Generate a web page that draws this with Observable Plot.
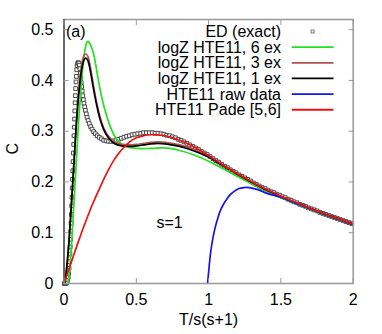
<!DOCTYPE html>
<html><head><meta charset="utf-8">
<script src="https://cdn.jsdelivr.net/npm/d3@7"></script>
<script src="https://cdn.jsdelivr.net/npm/@observablehq/plot@0.6"></script>
<style>
html,body{margin:0;padding:0;background:#fff;}
#chart{width:382px;height:334px;}
</style></head><body><div id="chart"></div>
<script>
// ED (exact) squares
const edT = [0.002,0.006,0.010,0.014,0.018,0.022,0.026,0.029,0.032,0.035,0.038,0.041,0.043,0.045,0.047,0.049,0.051,0.053,0.055,0.057,0.059,0.061,0.063,0.065,0.067,0.069,0.071,0.073,0.075,0.077,0.079,0.081,0.083,0.085,0.088,0.091,0.095,0.099,0.103,0.107,0.110,0.113,0.116,0.119,0.122,0.126,0.130,0.134,0.138,0.143,0.148,0.154,0.160,0.167,0.175,0.184,0.194,0.205,0.217,0.230,0.244,0.259,0.275,0.291,0.308,0.325,0.342,0.360,0.378,0.396,0.414,0.433,0.452,0.471,0.490,0.510,0.530,0.550,0.570,0.590,0.610,0.630,0.650,0.670,0.690,0.710,0.730,0.750,0.770,0.790,0.810,0.830,0.850,0.870,0.890,0.910,0.930,0.950,0.970,0.990,1.01,1.03,1.05,1.07,1.09,1.11,1.13,1.15,1.17,1.19,1.21,1.23,1.25,1.27,1.29,1.31,1.33,1.35,1.37,1.39,1.41,1.43,1.45,1.47,1.49,1.51,1.53,1.55,1.57,1.59,1.61,1.63,1.65,1.67,1.69,1.71,1.73,1.75,1.77,1.79,1.81,1.83,1.85,1.87,1.89,1.91,1.93,1.95,1.97,1.99];
const edC = [0.000,0.000,0.000,0.001,0.002,0.004,0.008,0.013,0.020,0.030,0.043,0.058,0.072,0.087,0.103,0.119,0.136,0.153,0.170,0.188,0.205,0.222,0.240,0.257,0.274,0.291,0.308,0.324,0.340,0.356,0.370,0.384,0.397,0.408,0.421,0.429,0.434,0.435,0.434,0.430,0.423,0.414,0.405,0.396,0.388,0.379,0.370,0.362,0.355,0.348,0.341,0.334,0.327,0.321,0.315,0.309,0.304,0.299,0.295,0.291,0.288,0.285,0.282,0.281,0.280,0.280,0.281,0.282,0.284,0.286,0.288,0.290,0.291,0.293,0.294,0.295,0.296,0.297,0.297,0.297,0.297,0.296,0.296,0.295,0.294,0.292,0.291,0.289,0.287,0.284,0.282,0.279,0.276,0.273,0.270,0.267,0.264,0.260,0.257,0.254,0.250,0.246,0.242,0.239,0.235,0.231,0.228,0.224,0.221,0.218,0.214,0.211,0.208,0.205,0.202,0.198,0.195,0.192,0.189,0.187,0.184,0.181,0.179,0.176,0.174,0.171,0.169,0.166,0.164,0.161,0.159,0.156,0.154,0.152,0.149,0.147,0.145,0.143,0.140,0.138,0.136,0.134,0.132,0.130,0.128,0.126,0.124,0.122,0.120,0.118];

// logZ HTE11, 6 ex (green)
const g6T = [0.028,0.04,0.055,0.07,0.085,0.1,0.115,0.13,0.145,0.158,0.168,0.18,0.192,0.205,0.22,0.235,0.25,0.265,0.28,0.3,0.32,0.345,0.37,0.4,0.45,0.5,0.6,0.7,0.8,0.9,1.0,1.1,1.2,1.3,1.4,1.5,1.6,1.7,1.8,1.9,2.0];
const g6C = [0,0.03,0.09,0.165,0.24,0.315,0.375,0.425,0.46,0.475,0.477,0.472,0.464,0.452,0.43,0.405,0.382,0.362,0.345,0.326,0.309,0.293,0.282,0.274,0.268,0.266,0.266,0.267,0.262,0.253,0.241,0.226,0.211,0.196,0.182,0.169,0.157,0.146,0.135,0.125,0.116];

// logZ HTE11, 3 ex (brown)
const g3T = [0.005,0.02,0.035,0.05,0.065,0.08,0.095,0.11,0.125,0.14,0.153,0.166,0.18,0.195,0.21,0.23,0.25,0.275,0.3,0.33,0.36,0.4,0.45,0.5,0.55,0.6,0.65,0.7,0.8,0.9,1.0,1.1,1.2,1.3,1.4,1.5,1.6,1.7,1.8,1.9,2.0];
const g3C = [0,0.035,0.085,0.15,0.222,0.293,0.356,0.404,0.435,0.45,0.452,0.447,0.43,0.405,0.38,0.351,0.327,0.306,0.293,0.283,0.277,0.274,0.273,0.274,0.276,0.278,0.279,0.278,0.273,0.264,0.251,0.234,0.216,0.2,0.185,0.172,0.16,0.149,0.138,0.128,0.118];

// logZ HTE11, 1 ex (black)
const g1T = [0.005,0.02,0.035,0.05,0.065,0.08,0.095,0.11,0.125,0.14,0.152,0.165,0.18,0.195,0.21,0.23,0.25,0.275,0.3,0.33,0.36,0.4,0.45,0.5,0.55,0.6,0.65,0.7,0.8,0.9,1.0,1.1,1.2,1.3,1.4,1.5,1.6,1.7,1.8,1.9,2.0];
const g1C = [0,0.035,0.085,0.15,0.22,0.29,0.35,0.395,0.426,0.441,0.444,0.439,0.422,0.398,0.374,0.346,0.323,0.303,0.29,0.28,0.274,0.271,0.27,0.271,0.273,0.275,0.276,0.275,0.27,0.261,0.249,0.232,0.215,0.199,0.184,0.171,0.159,0.148,0.137,0.127,0.117];

// HTE11 raw data (blue)
const rawT = [0.993,1.0,1.013,1.03,1.048,1.065,1.082,1.105,1.128,1.15,1.174,1.21,1.243,1.28,1.313,1.35,1.382,1.42,1.46,1.5,1.6,1.7,1.8,1.9,2.0];
const rawC = [0,0.022,0.059,0.09,0.113,0.13,0.144,0.157,0.167,0.175,0.181,0.187,0.189,0.189,0.187,0.184,0.18,0.176,0.173,0.17,0.158,0.147,0.136,0.126,0.116];

// HTE11 Pade [5,6] (red)
const padeT = [0,0.03,0.06,0.1,0.15,0.2,0.25,0.3,0.35,0.4,0.45,0.5,0.55,0.6,0.65,0.7,0.8,0.9,1.0,1.1,1.2,1.3,1.4,1.5,1.6,1.7,1.8,1.9,2.0];
const padeC = [0,0.025,0.05,0.083,0.122,0.158,0.19,0.22,0.245,0.264,0.278,0.287,0.291,0.293,0.293,0.291,0.282,0.269,0.252,0.233,0.216,0.2,0.185,0.172,0.16,0.148,0.137,0.127,0.117];

const seriesNames = ["ED (exact)", "logZ HTE11, 6 ex", "logZ HTE11, 3 ex", "logZ HTE11, 1 ex", "HTE11 raw data", "HTE11 Pade [5,6]"];
const seriesColors = ["#4a4a4a", "#22e022", "#b5504c", "#000000", "#1414f0", "#f01010"];

const xTicks = [0, 0.5, 1, 1.5, 2];
const xTickLabels = ["0", "0.5", "1", "1.5", "2"];
const yTicks = [0, 0.1, 0.2, 0.3, 0.4, 0.5];
const yTickLabels = ["0", "0.1", "0.2", "0.3", "0.4", "0.5"];
const xLabel = "T/s(s+1)";
const yLabel = "C";
const panelLabel = "(a)";
const noteLabel = "s=1";

const rows = (T, C) => T.map((t, i) => ({t, c: C[i]}));
const font = '"Liberation Sans", Arial, Helvetica, sans-serif';
const fs = 16;

const lineSeries = [[g6T, g6C, 1], [g3T, g3C, 2], [g1T, g1C, 3], [rawT, rawC, 4], [padeT, padeC, 5]];

const chart = Plot.plot({
  width: 382, height: 334,
  marginLeft: 63.5, marginRight: 29.3, marginTop: 19, marginBottom: 51,
  style: {fontFamily: font, fontSize: fs + "px", color: "#000", background: "#fff", overflow: "visible"},
  x: {domain: [0, 2], label: null, axis: null},
  y: {domain: [0, 0.52], label: null, axis: null},
  marks: [
    Plot.dot(rows(edT, edC), {x: "t", y: "c", symbol: "square", r: 2.1, stroke: seriesColors[0], fill: "white", strokeWidth: 1}),
    ...lineSeries.map(([T, C, k]) => Plot.line(rows(T, C), {x: "t", y: "c", stroke: seriesColors[k], strokeWidth: 1.7, curve: "catmull-rom", clip: true})),
    Plot.frame({stroke: "#999", strokeWidth: 1.5}),
    Plot.ruleX([0], {stroke: "#222", strokeWidth: 1}),
    Plot.axisX(xTicks, {anchor: "bottom", tickSize: -5, tickPadding: 15, stroke: "#999", fill: "#000", label: null, fontSize: fs, tickFormat: d => xTickLabels[xTicks.indexOf(d)]}),
    Plot.axisX(xTicks, {anchor: "top", tickSize: -5, stroke: "#999", label: null, tickFormat: () => ""}),
    Plot.axisY(yTicks, {anchor: "left", tickSize: -5, tickPadding: 15.5, stroke: "#999", fill: "#000", label: null, fontSize: fs, tickFormat: d => yTickLabels[yTicks.indexOf(d)]}),
    Plot.axisY(yTicks, {anchor: "right", tickSize: -5, stroke: "#999", label: null, tickFormat: () => ""}),
    Plot.text([xLabel], {frameAnchor: "bottom", dy: 36, lineAnchor: "middle", fontSize: fs, fill: "#000"}),
    Plot.text([yLabel], {frameAnchor: "left", dx: -51.5, dy: 3, rotate: -90, lineAnchor: "middle", fontSize: fs, fill: "#000"}),
    Plot.text([panelLabel], {frameAnchor: "top-left", dx: 2, dy: 12, textAnchor: "start", lineAnchor: "middle", fontSize: fs, fill: "#000"}),
    Plot.text([noteLabel], {frameAnchor: "top-left", dx: 105.5, dy: 203, textAnchor: "middle", lineAnchor: "middle", fontSize: fs, fill: "#000"})
  ]
});

document.getElementById("chart").appendChild(chart);

// Legend (inside plot, top right)
const svg = d3.select(chart);
const lg = svg.append("g").attr("font-family", font).attr("font-size", fs);
const textRight = 281, lineX1 = 291.7, lineX2 = 333.5, row0 = 31.5, rowStep = 15.65;
seriesNames.forEach((name, i) => {
  const yy = row0 + i * rowStep;
  lg.append("text").attr("x", textRight).attr("y", yy).attr("dy", "0.35em")
    .attr("text-anchor", "end").attr("fill", "#000").text(name);
  if (i === 0) {
    lg.append("rect").attr("x", (lineX1 + lineX2) / 2 - 1.5).attr("y", yy - 1.5)
      .attr("width", 3).attr("height", 3).attr("fill", "white")
      .attr("stroke", "#777").attr("stroke-width", 1);
  } else {
    lg.append("line").attr("x1", lineX1).attr("x2", lineX2).attr("y1", yy).attr("y2", yy)
      .attr("stroke", seriesColors[i]).attr("stroke-width", 1.8);
  }
});
</script>
</body></html>
